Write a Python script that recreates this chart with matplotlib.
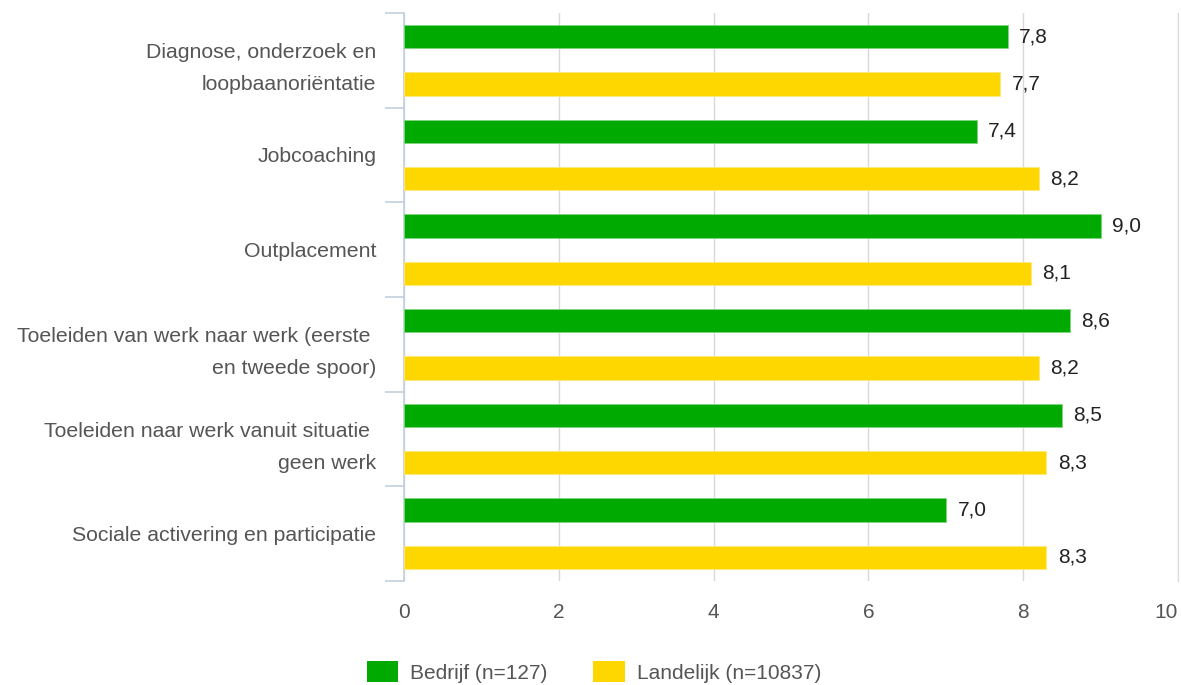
import matplotlib
matplotlib.use('Agg')
import matplotlib.pyplot as plt
import numpy as np
from matplotlib.patches import Patch

# --- data ---
categories = [
    'Diagnose, onderzoek en\nloopbaanoriëntatie',
    'Jobcoaching',
    'Outplacement',
    'Toeleiden van werk naar werk (eerste \nen tweede spoor)',
    'Toeleiden naar werk vanuit situatie \ngeen werk',
    'Sociale activering en participatie',
]
bedrijf = [7.8, 7.4, 9.0, 8.6, 8.5, 7.0]
landelijk = [7.7, 8.2, 8.1, 8.2, 8.3, 8.3]
series_names = ['Bedrijf (n=127)', 'Landelijk (n=10837)']
xticks = [0, 2, 4, 6, 8, 10]

green = '#00AA00'
yellow = '#FFD700'
axis_col = '#C0D0E0'
grid_col = '#D8D8D8'
fs = 15

plt.rcParams['font.family'] = ['Liberation Sans', 'DejaVu Sans']

fig = plt.figure(figsize=(11.81, 6.85), dpi=100)
ax = fig.add_axes([404 / 1181, 1 - 581 / 685, (1178 - 404) / 1181, (581 - 13) / 685])

y = np.arange(len(categories))
h = 0.245
off = 0.25
ax.barh(y - off, bedrijf, height=h, color=green, edgecolor='#7fd47f', linewidth=0.6, zorder=3)
ax.barh(y + off, landelijk, height=h, color=yellow, edgecolor='#ffe97f', linewidth=0.6, zorder=3)

for yi, v in zip(y - off, bedrijf):
    ax.text(v + 0.15, yi, f'{v:.1f}'.replace('.', ','), va='center', ha='left',
            fontsize=fs, color='#222222')
for yi, v in zip(y + off, landelijk):
    ax.text(v + 0.15, yi, f'{v:.1f}'.replace('.', ','), va='center', ha='left',
            fontsize=fs, color='#222222')

ax.set_xlim(0, 10)
ax.set_ylim(len(categories) - 0.5, -0.5)

# x axis
ax.set_xticks(xticks)
ax.set_xticklabels([str(t) for t in xticks])
ax.tick_params(axis='x', length=0, pad=16, labelsize=fs, labelcolor='#555555')
ax.get_xticklabels()[-1].set_horizontalalignment('right')
ax.grid(axis='x', color=grid_col, linewidth=1, zorder=0)

# y axis
ax.set_yticks(y)
ax.set_yticklabels(categories, ha='right', multialignment='right', linespacing=1.85)
ax.tick_params(axis='y', which='major', length=0, pad=20, labelsize=15.3, labelcolor='#555555')
ax.set_yticks(np.arange(-0.5, len(categories)), minor=True)
ax.tick_params(axis='y', which='minor', length=14, width=1.2, color=axis_col)

for s in ['top', 'bottom']:
    ax.spines[s].set_visible(False)
ax.spines['left'].set_color(axis_col)
ax.spines['left'].set_linewidth(1.2)
ax.spines['right'].set_color(grid_col)

handles = [Patch(facecolor=green, edgecolor='none'), Patch(facecolor=yellow, edgecolor='none')]
fig.legend(handles, series_names, loc='center', bbox_to_anchor=(0.503, 1 - 672 / 685),
           ncol=2, frameon=False, fontsize=fs, handlelength=1.5, handleheight=1.15,
           columnspacing=2.2, handletextpad=0.6, labelcolor='#555555')

fig.savefig('out.png', dpi=100)
